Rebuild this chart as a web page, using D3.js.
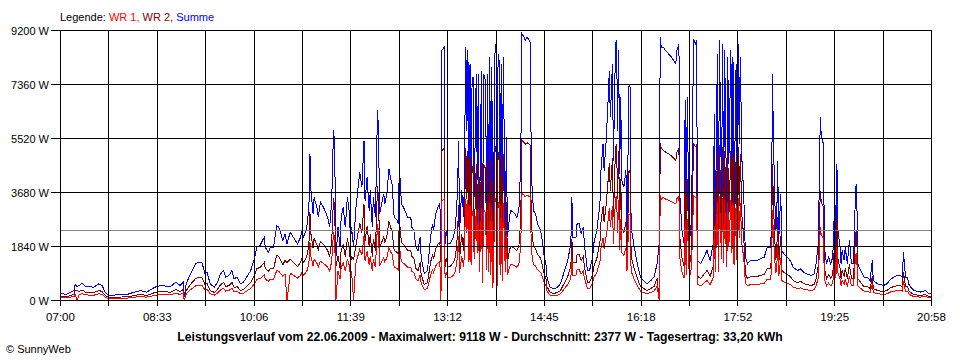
<!DOCTYPE html>
<html>
<head>
<meta charset="utf-8">
<script src="https://cdnjs.cloudflare.com/ajax/libs/d3/7.8.5/d3.min.js"></script>
<style>
  body { margin: 0; background: #fff; }
  svg { display: block; font-family: "Liberation Sans", Arial, sans-serif; }
</style>
</head>
<body>
<svg id="chart" width="960" height="360"></svg>
<script>
// SunnyWeb Leistungsverlauf 22.06.2009
var times = [
  "07:00","07:05","07:13","07:14","07:16","07:18","07:21","07:24","07:32","07:37",
  "07:40","07:43","07:46","07:55","08:04","08:11","08:17","08:23","08:31","08:36",
  "08:46","08:51","08:55","08:58","08:59","09:01","09:05","09:10","09:13","09:16",
  "09:19","09:21","09:24","09:28","09:31","09:34","09:37","09:39","09:42","09:45",
  "09:47","09:50","09:53","09:56","10:00","10:03","10:06","10:09","10:12","10:16",
  "10:17","10:20","10:22","10:25","10:28","10:30","10:32","10:34","10:36","10:38",
  "10:41","10:44","10:48","10:51","10:52","10:54","10:57","10:59","11:00","11:01",
  "11:03","11:04","11:07","11:08","11:10","11:13","11:17","11:19","11:21","11:22",
  "11:23","11:24","11:25","11:27","11:29","11:30","11:32","11:34","11:36","11:38",
  "11:39","11:40","11:42","11:44","11:46","11:48","11:50","11:52","11:53","11:55",
  "11:57","11:58","12:00","12:01","12:03","12:05","12:06","12:07","12:09","12:11",
  "12:12","12:14","12:16","12:18","12:19","12:21","12:24","12:25","12:26","12:28",
  "12:30","12:34","12:37","12:38","12:40","12:42","12:44","12:46","12:47","12:50",
  "12:53","12:54","12:56","12:58","12:59","13:01","13:03","13:05","13:06","13:07",
  "13:09","13:10","13:11","13:13","13:15","13:18","13:20","13:22","13:23","13:24",
  "13:26","13:28","13:30","13:31","13:32","13:33","13:34","13:35","13:36","13:37",
  "13:38","13:40","13:41","13:42","13:43","13:45","13:46","13:47","13:49","13:50",
  "13:51","13:52","13:53","13:54","13:55","13:56","13:58","13:59","14:00","14:01",
  "14:02","14:03","14:04","14:05","14:06","14:08","14:09","14:10","14:12","14:13",
  "14:16","14:19","14:21","14:22","14:23","14:24","14:26","14:27","14:29","14:31",
  "14:32","14:33","14:35","14:37","14:39","14:42","14:43","14:45","14:47","14:48",
  "14:51","14:55","14:58","15:01","15:04","15:08","15:11","15:12","15:13","15:16",
  "15:17","15:19","15:21","15:23","15:24","15:27","15:29","15:32","15:33","15:36",
  "15:39","15:40","15:42","15:43","15:45","15:47","15:48","15:49","15:51","15:52",
  "15:54","15:55","15:56","15:57","15:58","15:59","16:00","16:02","16:04","16:05",
  "16:07","16:08","16:09","16:12","16:15","16:18","16:21","16:24","16:28","16:31",
  "16:34","16:36","16:37","16:38","16:40","16:42","16:45","16:48","16:52","16:53",
  "16:55","16:56","16:58","17:00","17:01","17:02","17:03","17:05","17:07","17:08",
  "17:09","17:11","17:12","17:13","17:16","17:19","17:22","17:25","17:28","17:29",
  "17:30","17:32","17:33","17:34","17:36","17:37","17:38","17:39","17:41","17:42",
  "17:43","17:45","17:46","17:47","17:48","17:50","17:51","17:52","17:53","17:54",
  "17:56","17:57","17:59","18:01","18:04","18:10","18:17","18:20","18:23","18:24",
  "18:25","18:26","18:28","18:29","18:30","18:31","18:33","18:34","18:36","18:39",
  "18:42","18:45","18:49","18:52","18:55","18:58","19:02","19:05","19:07","19:09",
  "19:10","19:11","19:12","19:14","19:15","19:17","19:19","19:21","19:23","19:25",
  "19:26","19:27","19:28","19:30","19:31","19:32","19:34","19:35","19:37","19:39",
  "19:41","19:43","19:45","19:46","19:47","19:50","19:53","19:56","19:59","20:01",
  "20:02","20:06","20:12","20:15","20:19","20:22","20:25","20:28","20:30","20:31",
  "20:33","20:35","20:36","20:38","20:41","20:47","20:52","20:55","20:57","20:58"
];

var summe = [
  250,205,340,545,480,510,590,475,455,570,
  510,285,170,195,205,285,340,285,455,510,
  475,625,510,625,110,570,910,1250,1305,1305,
  910,965,570,455,625,910,1020,795,850,1020,
  740,795,570,625,850,1020,1360,1815,1875,2155,
  1815,1645,1815,1815,2555,2500,2270,2045,2270,1930,
  2330,2155,1930,2155,2330,2155,2500,3180,5000,3750,
  2955,3520,3125,2840,3350,3180,2840,2500,3405,5000,
  5815,4540,1475,2500,1815,2840,3180,2500,3520,2955,
  2045,2500,1815,3065,3750,4370,3860,5450,3405,4200,
  3065,3750,2500,3520,2840,6475,5790,2955,3295,3635,
  3295,3635,4485,4090,3975,2840,2725,2615,4600,3295,
  3180,2840,2840,2500,2385,1815,1705,2155,1475,910,
  1020,1365,2155,2615,2385,2955,3180,3295,1930,8520,
  8630,1930,2385,1930,1930,2155,2500,3750,5450,2385,
  3750,2840,8630,5790,8520,3295,8065,3065,7610,7610,
  3520,7725,4090,7725,2385,7835,1475,7725,7495,2615,
  7725,2385,8290,2155,7950,1020,8405,8745,1250,8405,
  8180,2155,8065,1705,8290,2385,5565,2155,2840,3065,
  3010,2840,3065,3860,5450,9090,8970,8860,8970,8860,
  8800,4315,3065,2955,2615,2385,2155,1590,1250,795,
  455,400,455,570,910,1365,1930,3520,2155,2155,
  2615,2615,2270,2500,1930,1020,1020,1475,1930,2385,
  3295,4430,5340,4430,5450,6925,7835,6245,8065,4770,
  8745,8860,5790,8520,4315,6925,4090,3860,4430,2500,
  7385,7270,2500,1815,1250,795,680,570,680,795,
  1250,1930,8970,8630,8630,8520,8405,8290,8065,8520,
  8745,3520,2385,1930,6815,2155,6925,1930,2725,5340,
  8915,8745,8860,1365,1250,1475,1705,1365,1930,6360,
  2385,8405,2385,8860,3520,8745,3180,8520,2840,8290,
  4655,8520,4090,8290,3065,8065,2840,8745,5340,8290,
  4090,4090,1475,1250,1365,1365,1475,1815,1815,2385,
  7725,5340,2385,2500,4770,2045,3635,1705,1590,1475,
  1365,1135,1020,1080,965,910,850,910,1250,1930,
  3860,6245,5565,5340,1815,1250,1475,1250,1475,3520,
  1930,4655,2385,1815,1250,1705,1365,1815,1250,2045,
  1250,1250,3860,3975,1250,1020,795,795,680,1365,
  680,570,510,570,740,795,850,850,795,1645,
  795,795,570,455,340,285,340,250,230,230
];

var wr1 = [
  100,85,135,220,0,205,235,190,180,230,
  205,115,60,80,80,115,135,115,180,205,
  190,250,205,250,0,230,365,500,520,520,
  365,385,230,180,250,365,410,320,340,410,
  295,320,230,250,340,410,545,725,750,860,
  725,660,725,725,1020,1000,910,820,910,0,
  930,860,770,860,930,860,1000,1270,2000,1500,
  1180,1410,1250,1135,1340,1270,1135,1000,1360,2000,
  2325,1815,0,1000,725,1135,1270,1000,1410,1180,
  820,1000,0,1225,1500,1750,1545,2180,1360,1680,
  1225,1500,1000,1410,1135,2590,2315,1180,1320,1455,
  1320,1455,1795,1635,1590,1135,1090,1045,1840,1320,
  1270,1135,1135,1000,955,725,680,860,590,365,
  410,545,860,1045,955,1180,1270,1320,0,3410,
  3450,770,955,770,770,860,1000,1500,2180,955,
  1500,1135,3450,2315,3410,1320,3225,1225,3045,3045,
  1410,3090,1635,3090,955,3135,590,3090,3000,1045,
  3090,955,3315,860,3180,410,3360,3500,500,3360,
  3270,860,3225,680,3315,955,2225,860,1135,1225,
  1205,1135,1225,1545,2180,3640,3590,3545,3590,3545,
  3520,1725,1225,1180,1045,955,860,635,500,320,
  180,160,180,230,365,545,770,1410,860,860,
  1045,1045,910,1000,770,410,410,590,770,955,
  1320,1770,2135,1770,2180,2770,3135,2500,3225,1910,
  3500,3545,2315,3410,1725,2770,1635,1545,1770,1000,
  2955,2910,1000,725,500,320,270,230,270,320,
  500,0,3590,3450,3520,3460,3410,3370,3290,3470,
  3560,1410,955,770,2725,860,2770,770,1090,2135,
  3565,3500,3545,545,500,590,680,545,770,2545,
  955,3360,955,3545,1410,3500,1270,3410,1135,3315,
  1860,3410,1635,3315,1225,3225,1135,3500,2135,3315,
  1635,1635,590,500,545,545,590,725,725,955,
  3090,2135,955,1000,1910,820,1455,680,635,590,
  545,455,410,430,385,365,340,365,500,770,
  1545,2500,2225,2135,725,500,590,500,590,1410,
  770,1860,955,725,500,680,545,725,500,820,
  500,500,1545,1590,500,410,320,320,270,545,
  270,230,205,230,295,320,340,340,320,660,
  320,320,230,180,135,115,135,100,90,90
];

var wr2 = [
  150,120,205,325,330,305,355,285,275,340,
  305,170,110,115,125,170,205,170,275,305,
  285,375,305,375,110,340,545,750,785,785,
  545,580,340,275,375,545,610,475,510,610,
  445,475,340,375,510,610,815,1090,1125,1295,
  1090,985,1090,1090,1535,1500,1360,1225,1360,1300,
  1400,1295,1160,1295,1400,1295,1500,1910,3000,2250,
  1775,2110,1875,1705,2010,1910,1705,1500,2045,3000,
  3490,2725,1150,1500,1090,1705,1910,1500,2110,1775,
  1225,1500,1400,1840,2250,2620,2315,3270,2045,2520,
  1840,2250,1500,2110,1705,3885,3475,1775,1975,2180,
  1975,2180,2690,2455,2385,1705,1635,1570,2760,1975,
  1910,1705,1705,1500,1430,1090,1025,1295,885,545,
  610,820,1295,1570,1430,1775,1910,1975,1300,5110,
  5180,1160,1430,1160,1160,1295,1500,2250,3270,1430,
  2250,1705,5180,3475,5110,1975,4840,1840,4565,4565,
  2110,4635,2455,4635,1430,4700,885,4635,4495,1570,
  4635,1430,4975,1295,4770,610,5045,5245,750,5045,
  4910,1295,4840,1025,4975,1430,3340,1295,1705,1840,
  1805,1705,1840,2315,3270,5450,5380,5315,5380,5315,
  5280,2590,1840,1775,1570,1430,1295,955,750,475,
  275,240,275,340,545,820,1160,2110,1295,1295,
  1570,1570,1360,1500,1160,610,610,885,1160,1430,
  1975,2660,3205,2660,3270,4155,4700,3745,4840,2860,
  5245,5315,3475,5110,2590,4155,2455,2315,2660,1500,
  4430,4360,1500,1090,750,475,410,340,410,475,
  750,0,5380,5180,5110,5060,4995,4920,4775,5050,
  5185,2110,1430,1160,4090,1295,4155,1160,1635,3205,
  5350,5245,5315,820,750,885,1025,820,1160,3815,
  1430,5045,1430,5315,2110,5245,1910,5110,1705,4975,
  2795,5110,2455,4975,1840,4840,1705,5245,3205,4975,
  2455,2455,885,750,820,820,885,1090,1090,1430,
  4635,3205,1430,1500,2860,1225,2180,1025,955,885,
  820,680,610,650,580,545,510,545,750,1160,
  2315,3745,3340,3205,1090,750,885,750,885,2110,
  1160,2795,1430,1090,750,1025,820,1090,750,1225,
  750,750,2315,2385,750,610,475,475,410,820,
  410,340,305,340,445,475,510,510,475,985,
  475,475,340,275,205,170,205,150,140,140
];

var yTicks = [0, 1840, 3680, 5520, 7360, 9200];
var yLabels = ["0 W", "1840 W", "3680 W", "5520 W", "7360 W", "9200 W"];
var xLabels = ["07:00", "08:33", "10:06", "11:39", "13:12", "14:45", "16:18", "17:52", "19:25", "20:58"];
var average = 2377;
var title = "Leistungsverlauf vom 22.06.2009 - Maximalwert: 9118 W - Durchschnitt: 2377 W - Tagesertrag: 33,20 kWh";

var svg = d3.select("#chart");
var parseTime = d3.timeParse("%H:%M");
var t0 = parseTime(xLabels[0]), t1 = parseTime(xLabels[xLabels.length - 1]);

var x = d3.scaleTime().domain([t0, t1]).range([60, 931]);
var y = d3.scaleLinear().domain([0, 9200]).range([300, 30]);

function px(v) { return Math.round(v) + 0.5; }

var n = Math.min(times.length, summe.length, wr1.length, wr2.length);
function series(values) {
  return d3.range(n).map(function(i) { return { t: parseTime(times[i]), v: values[i] }; });
}

var line = d3.line()
    .x(function(d) { return x(d.t) + 0.5; })
    .y(function(d) { return y(d.v) + 0.5; });

// data lines: Summe underneath, then WR 2, then WR 1
[[summe, "#0000ff"], [wr2, "#800000"], [wr1, "#ff0000"]].forEach(function(s) {
  svg.append("path")
      .datum(series(s[0]))
      .attr("fill", "none")
      .attr("stroke", s[1])
      .attr("stroke-width", 1)
      .attr("shape-rendering", "crispEdges")
      .attr("d", line);
});

// average line
svg.append("line")
    .attr("x1", x(t0)).attr("x2", x(t1) + 1)
    .attr("y1", px(y(average))).attr("y2", px(y(average)))
    .attr("stroke", "#808080")
    .attr("shape-rendering", "crispEdges");

// grid: 18 intervals, every second one labelled
var gridTimes = d3.range(19).map(function(i) { return new Date(+t0 + i * (t1 - t0) / 18); });

svg.append("g").selectAll("line")
    .data(gridTimes)
  .enter().append("line")
    .attr("x1", function(d) { return px(x(d)); })
    .attr("x2", function(d) { return px(x(d)); })
    .attr("y1", y(9200))
    .attr("y2", y(0) + 6)
    .attr("stroke", "#000")
    .attr("shape-rendering", "crispEdges");

svg.append("g").selectAll("line")
    .data(yTicks)
  .enter().append("line")
    .attr("x1", x(t0) - 9)
    .attr("x2", x(t1) + 1)
    .attr("y1", function(d) { return px(y(d)); })
    .attr("y2", function(d) { return px(y(d)); })
    .attr("stroke", "#000")
    .attr("shape-rendering", "crispEdges");

svg.append("g").selectAll("text")
    .data(yTicks)
  .enter().append("text")
    .attr("x", 49)
    .attr("y", function(d) { return y(d) + 4.5; })
    .attr("text-anchor", "end")
    .attr("font-size", "11px")
    .text(function(d, i) { return yLabels[i]; });

svg.append("g").selectAll("text")
    .data(xLabels)
  .enter().append("text")
    .attr("x", function(d, i) { return x(gridTimes[i * 2]) + 0.5; })
    .attr("y", 321)
    .attr("text-anchor", "middle")
    .attr("font-size", "11.5px")
    .text(function(d) { return d; });

// legend
var legend = svg.append("text")
    .attr("x", 60)
    .attr("y", 21)
    .attr("font-size", "11px");
legend.append("tspan").attr("fill", "#000").text("Legende: ");
legend.append("tspan").attr("fill", "#ff0000").text("WR 1, ");
legend.append("tspan").attr("fill", "#800000").text("WR 2, ");
legend.append("tspan").attr("fill", "#0000ff").text("Summe");

svg.append("text")
    .attr("x", 480)
    .attr("y", 341)
    .attr("text-anchor", "middle")
    .attr("font-size", "12.2px")
    .attr("font-weight", "bold")
    .text(title);

svg.append("text")
    .attr("x", 6)
    .attr("y", 353)
    .attr("font-size", "11px")
    .text("\u00a9 SunnyWeb");
</script>
</body>
</html>
